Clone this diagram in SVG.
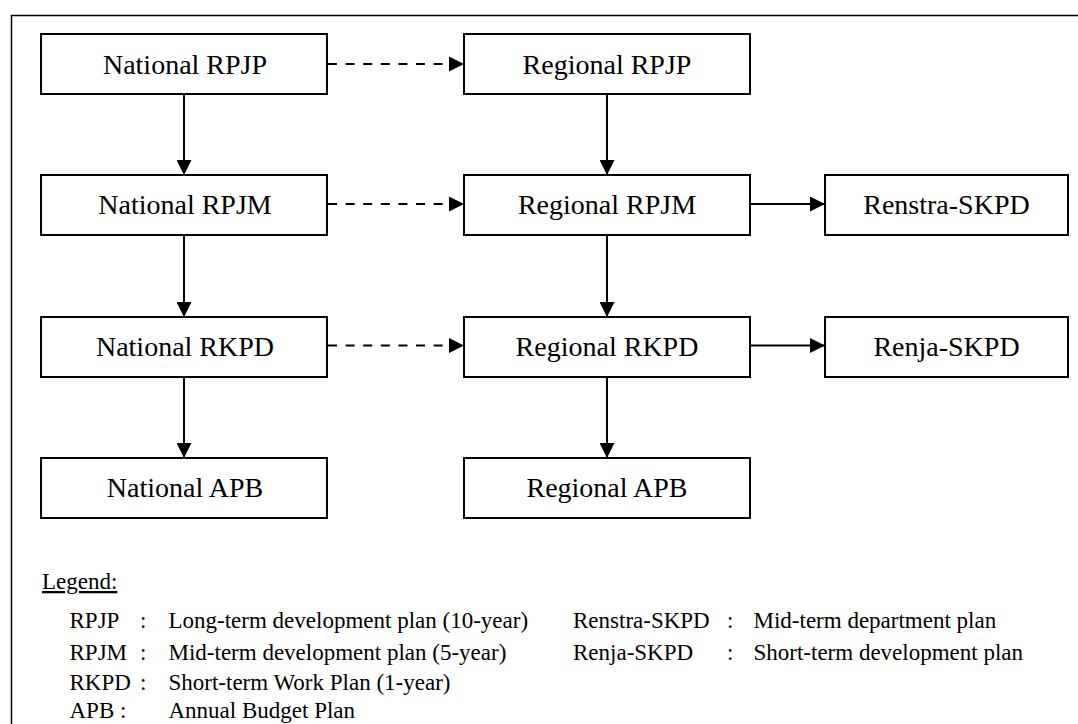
<svg xmlns="http://www.w3.org/2000/svg" width="1078" height="724" viewBox="0 0 1078 724">
<defs>
<marker id="ah" viewBox="0 0 15 15" refX="15" refY="7.5" markerWidth="15" markerHeight="15" markerUnits="userSpaceOnUse" orient="auto">
<path d="M0,0 L15,7.5 L0,15 Z" fill="#000"/>
</marker>
<style>
.box{fill:#fff;stroke:#000;stroke-width:2}
.lbl{font-family:"Liberation Serif","Times New Roman",serif;font-size:28px;fill:#000;text-anchor:middle}
.leg{font-family:"Liberation Serif","Times New Roman",serif;font-size:23px;fill:#000}
.c{fill:none;stroke:#000;stroke-width:2}
.d{stroke-dasharray:9,8.6}
</style>
</defs>
<rect width="1078" height="724" fill="#fff"/>
<rect x="11.5" y="15.5" width="1100" height="740" fill="none" stroke="#000" stroke-width="1.5"/>

<g id="connectors">
<line class="c" x1="184" y1="94" x2="184" y2="175" marker-end="url(#ah)"/>
<line class="c" x1="184" y1="235" x2="184" y2="317" marker-end="url(#ah)"/>
<line class="c" x1="184" y1="377" x2="184" y2="458" marker-end="url(#ah)"/>
<line class="c" x1="607" y1="94" x2="607" y2="175" marker-end="url(#ah)"/>
<line class="c" x1="607" y1="235" x2="607" y2="317" marker-end="url(#ah)"/>
<line class="c" x1="607" y1="377" x2="607" y2="458" marker-end="url(#ah)"/>
<line class="c d" x1="328" y1="64" x2="464" y2="64" marker-end="url(#ah)"/>
<line class="c d" x1="328" y1="204" x2="464" y2="204" marker-end="url(#ah)"/>
<line class="c d" x1="328" y1="345.5" x2="464" y2="345.5" marker-end="url(#ah)"/>
<line class="c" x1="750" y1="204" x2="825" y2="204" marker-end="url(#ah)"/>
<line class="c" x1="750" y1="345.5" x2="825" y2="345.5" marker-end="url(#ah)"/>
</g>

<g id="national-rpjp"><rect class="box" x="41" y="34" width="286" height="60"/><text class="lbl" x="185" y="73.5">National RPJP</text></g>
<g id="national-rpjm"><rect class="box" x="41" y="175" width="286" height="60"/><text class="lbl" x="185" y="214">National RPJM</text></g>
<g id="national-rkpd"><rect class="box" x="41" y="317" width="286" height="60"/><text class="lbl" x="185" y="356">National RKPD</text></g>
<g id="national-apb"><rect class="box" x="41" y="458" width="286" height="60"/><text class="lbl" x="185" y="497">National APB</text></g>

<g id="regional-rpjp"><rect class="box" x="464" y="34" width="286" height="60"/><text class="lbl" x="607" y="73.5">Regional RPJP</text></g>
<g id="regional-rpjm"><rect class="box" x="464" y="175" width="286" height="60"/><text class="lbl" x="607" y="214">Regional RPJM</text></g>
<g id="regional-rkpd"><rect class="box" x="464" y="317" width="286" height="60"/><text class="lbl" x="607" y="356">Regional RKPD</text></g>
<g id="regional-apb"><rect class="box" x="464" y="458" width="286" height="60"/><text class="lbl" x="607" y="497">Regional APB</text></g>

<g id="renstra-skpd"><rect class="box" x="825" y="175" width="243" height="60"/><text class="lbl" x="946.5" y="214">Renstra-SKPD</text></g>
<g id="renja-skpd"><rect class="box" x="825" y="317" width="243" height="60"/><text class="lbl" x="946.5" y="356">Renja-SKPD</text></g>

<g id="legend">
<text class="leg" x="42" y="589" text-decoration="underline">Legend:</text>
<text class="leg" x="69.5" y="628">RPJP</text><text class="leg" x="140" y="628">:</text><text class="leg" x="168.5" y="628">Long-term development plan (10-year)</text>
<text class="leg" x="69.5" y="660">RPJM</text><text class="leg" x="140" y="660">:</text><text class="leg" x="168.5" y="660">Mid-term development plan (5-year)</text>
<text class="leg" x="69.5" y="690">RKPD</text><text class="leg" x="140" y="690">:</text><text class="leg" x="168.5" y="690">Short-term Work Plan (1-year)</text>
<text class="leg" x="69.5" y="717.5">APB :</text><text class="leg" x="168.5" y="717.5">Annual Budget Plan</text>
<text class="leg" x="573" y="628">Renstra-SKPD</text><text class="leg" x="727" y="628">:</text><text class="leg" x="753.5" y="628">Mid-term department plan</text>
<text class="leg" x="573" y="660">Renja-SKPD</text><text class="leg" x="727" y="660">:</text><text class="leg" x="753.5" y="660">Short-term development plan</text>
</g>
</svg>
